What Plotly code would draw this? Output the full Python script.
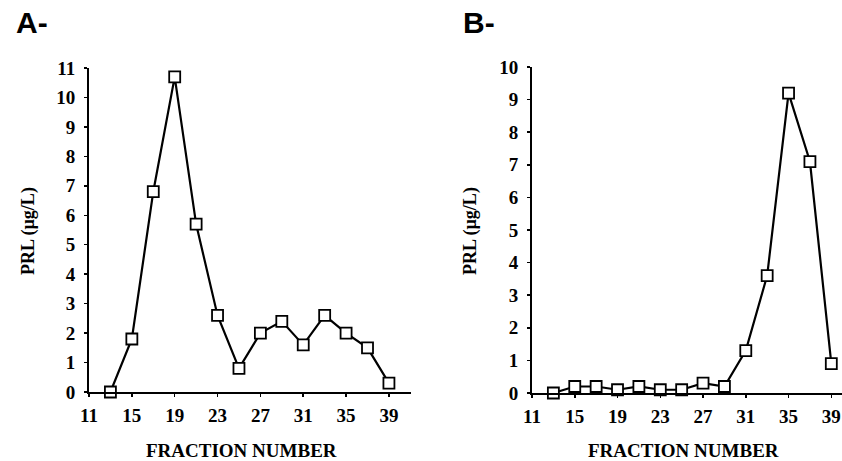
import plotly.graph_objects as go

fractions = [13, 15, 17, 19, 21, 23, 25, 27, 29, 31, 33, 35, 37, 39]
prl_a = [0, 1.8, 6.8, 10.7, 5.7, 2.6, 0.8, 2.0, 2.4, 1.6, 2.6, 2.0, 1.5, 0.3]
prl_b = [0, 0.2, 0.2, 0.1, 0.2, 0.1, 0.1, 0.3, 0.2, 1.3, 3.6, 9.2, 7.1, 0.9]
x_ticks = [11, 15, 19, 23, 27, 31, 35, 39]
y_ticks_a = list(range(0, 12))
y_ticks_b = list(range(0, 11))

W, H = 842, 461
serif = "Liberation Serif"

fig = go.Figure()

common = dict(mode="lines+markers", line=dict(color="black", width=2.2), cliponaxis=False, showlegend=False,
              marker=dict(symbol="square", size=11, color="white", line=dict(width=1.8, color="black")))

fig.add_trace(go.Scatter(x=fractions, y=prl_a, xaxis="x", yaxis="y", **common))
fig.add_trace(go.Scatter(x=fractions, y=prl_b, xaxis="x2", yaxis="y2", **common))

tickfont = dict(family=serif, size=19, color="black", weight="bold")

def xax(domain, rng):
    return dict(domain=domain, range=rng, tickvals=x_ticks, ticks="outside", ticklen=3, tickwidth=1.5,
                tickcolor="black", showline=True, linecolor="black", linewidth=2, showgrid=False,
                zeroline=False, tickfont=tickfont, ticklabelstandoff=2, fixedrange=True, automargin=False)

def yax(domain, rng, vals, anchor):
    return dict(domain=domain, range=rng, tickvals=vals, ticks="outside", ticklen=3, tickwidth=1.5,
                tickcolor="black", showline=True, linecolor="black", linewidth=2, showgrid=False,
                zeroline=False, tickfont=tickfont, anchor=anchor, ticklabelstandoff=5, fixedrange=True,
                automargin=False)

fig.update_layout(
    template="none",
    width=W, height=H,
    margin=dict(l=0, r=0, t=0, b=0, autoexpand=False),
    paper_bgcolor="white", plot_bgcolor="white",
    hovermode=False,
    xaxis=dict(xax([89 / W, 411 / W], [11, 41.06]), anchor="y"),
    yaxis=yax([1 - 392 / H, 1 - 68 / H], [0, 11], y_ticks_a, "x"),
    xaxis2=dict(xax([532 / W, 842 / W], [11, 40.0]), anchor="y2"),
    yaxis2=yax([1 - 393 / H, 1 - 67 / H], [0, 10], y_ticks_b, "x2"),
)

def ann(text, x, y, size, family, angle=0, bold=True):
    fig.add_annotation(text=text, x=x / W, y=1 - y / H, xref="paper", yref="paper",
                       showarrow=False, textangle=angle, xanchor="center", yanchor="middle",
                       font=dict(family=family, size=size, color="black", weight="bold" if bold else "normal"))

ann("A-", 32, 22, 30, "Liberation Sans")
ann("B-", 479, 22, 30, "Liberation Sans")
ann("PRL (µg/L)", 28, 231, 18, serif, angle=-90)
ann("PRL (µg/L)", 470, 231, 18, serif, angle=-90)
ann("FRACTION NUMBER", 241, 450, 19, serif)
ann("FRACTION NUMBER", 683, 450, 19, serif)

fig.write_html("out.html", config={"displayModeBar": False, "staticPlot": True},
               post_script="document.body.style.margin='0';document.body.style.overflow='hidden';")
